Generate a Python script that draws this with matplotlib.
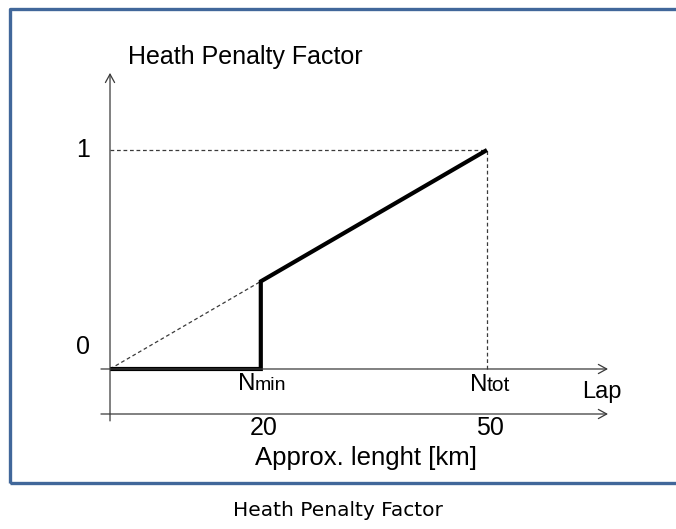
import numpy as np
import matplotlib
matplotlib.use('Agg')
import matplotlib.pyplot as plt
from matplotlib.patches import Rectangle

# data
laps = [0, 20, 20, 50]               # lap number
penalty = [0, 0, 0.4, 1]             # heath penalty factor
ramp_laps = [0, 20]                  # dashed prolongation of the ramp
ramp_penalty = [0, 0.4]
n_min = 20
n_tot = 50
km_ticks = [20, 50]
km_labels = ['20', '50']

FONT = 'Liberation Sans'
AXIS_COLOR = '#3a3a3a'
FRAME_COLOR = '#41679a'

fig = plt.figure(figsize=(6.76, 5.29), dpi=100)
ax = fig.add_axes([0, 0, 1, 1])
ax.set_xlim(-14.59, 75.07)
ax.set_ylim(-0.7306, 1.6849)
ax.axis('off')

# frame around the diagram
ax.add_patch(Rectangle((-13.26, -0.5205), 95, 2.165, fill=False,
                       edgecolor=FRAME_COLOR, linewidth=2.4, joinstyle='round'))

arrow = dict(arrowstyle='->, head_length=0.6, head_width=0.33',
             color=AXIS_COLOR, lw=0.9, shrinkA=0, shrinkB=0)

# y axis
ax.annotate('', xy=(0, 1.352), xytext=(0, -0.237), arrowprops=arrow)
# lap axis
ax.annotate('', xy=(66.05, 0), xytext=(-1.2, 0), arrowprops=arrow)
# km axis
ax.annotate('', xy=(66.05, -0.2055), xytext=(-1.2, -0.2055), arrowprops=arrow)

# guide lines
ax.plot([0, n_tot], [1, 1], color=AXIS_COLOR, lw=0.9, dashes=(3, 2.2))
ax.plot([n_tot, n_tot], [0, 1], color=AXIS_COLOR, lw=0.9, dashes=(3, 2.2))
ax.plot(ramp_laps, ramp_penalty, color=AXIS_COLOR, lw=0.9, dashes=(3, 2.2))

# penalty curve
ax.plot(laps, penalty, color='black', lw=3, solid_joinstyle='miter',
        solid_capstyle='butt')

# texts
ax.text(2.39, 1.393, 'Heath Penalty Factor', fontsize=18, family=FONT,
        ha='left', va='baseline')
ax.text(-3.6, 1, '1', fontsize=18, family=FONT, ha='center', va='center')
ax.text(-3.6, 0.1, '0', fontsize=18, family=FONT, ha='center', va='center')

ax.text(n_min - 3.0, -0.096, 'N', fontsize=17.5, family=FONT, ha='left', va='baseline')
ax.text(n_min - 0.8, -0.096, 'min', fontsize=14, family=FONT, ha='left', va='baseline')
ax.text(n_tot - 2.25, -0.1, 'N', fontsize=17.5, family=FONT, ha='left', va='baseline')
ax.text(n_tot - 0.0, -0.1, 'tot', fontsize=15, family=FONT, ha='left', va='baseline')
ax.text(65.25, -0.105, 'Lap', fontsize=17, family=FONT, ha='center', va='center')

for x, lab in zip(km_ticks, km_labels):
    ax.text(x + 0.4, -0.27, lab, fontsize=18, family=FONT, ha='center', va='center')
ax.text(33.95, -0.438, 'Approx. lenght [km]', fontsize=18.5, family=FONT,
        ha='center', va='baseline')

ax.text(30.24, -0.644, 'Heath Penalty Factor', fontsize=14.5, family='DejaVu Sans',
        ha='center', va='center')

fig.savefig('out.png', dpi=100)
